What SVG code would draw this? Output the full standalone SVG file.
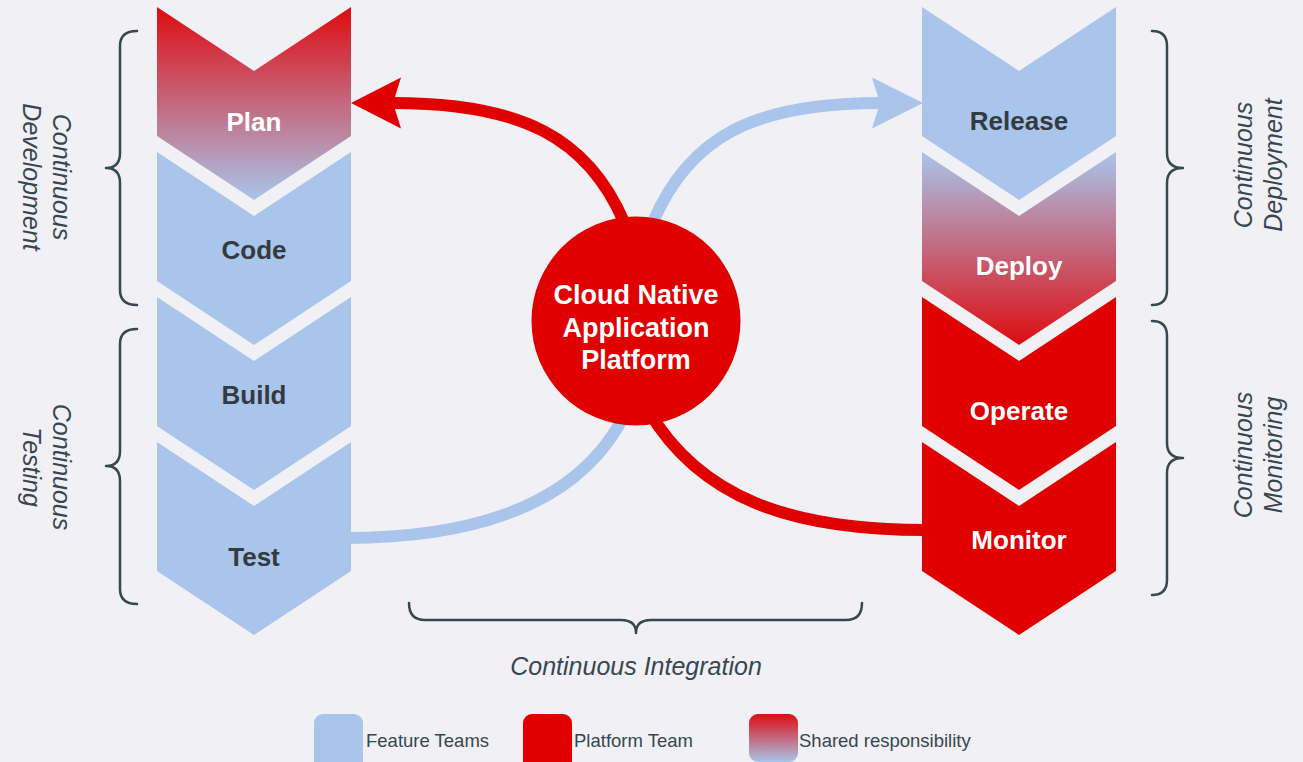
<svg xmlns="http://www.w3.org/2000/svg" width="1303" height="762" viewBox="0 0 1303 762">
  <defs>
    <linearGradient id="gRedBlue" x1="0" y1="0" x2="0" y2="1">
      <stop offset="0" stop-color="#de0c10"/>
      <stop offset="1" stop-color="#a9c5eb"/>
    </linearGradient>
    <linearGradient id="gBlueRed" x1="0" y1="0" x2="0" y2="1">
      <stop offset="0" stop-color="#a9c5eb"/>
      <stop offset="1" stop-color="#de0c10"/>
    </linearGradient>
    <marker id="arrRed" markerUnits="userSpaceOnUse" viewBox="-10 -28 56 56" refX="0" refY="0" markerWidth="56" markerHeight="56" orient="auto">
      <polygon points="42,0 -8,-25.5 0,0 -8,25.5" fill="#e00000"/>
    </marker>
    <marker id="arrBlue" markerUnits="userSpaceOnUse" viewBox="-10 -28 56 56" refX="0" refY="0" markerWidth="56" markerHeight="56" orient="auto">
      <polygon points="43,0 -8,-25.5 0,0 -8,25.5" fill="#a9c5eb"/>
    </marker>
  </defs>
  <style>
    .bg { fill: #f0f0f5; }
    .blue { fill: #a9c5eb; }
    .red { fill: #e00000; }
    .lbl { font-family: "Liberation Sans", Arial, sans-serif; font-weight: bold; font-size: 26px; text-anchor: middle; }
    .big { font-size: 27px; }
    .dark { fill: #333b41; }
    .white { fill: #ffffff; }
    .cap { font-family: "Liberation Sans", Arial, sans-serif; font-style: italic; font-size: 25px; fill: #37474f; text-anchor: middle; }
    .brace { fill: none; stroke: #37474f; stroke-width: 2.5; stroke-linecap: round; stroke-linejoin: round; }
    .conn { fill: none; stroke-width: 12; }
    .legend { font-family: "Liberation Sans", Arial, sans-serif; font-size: 18.5px; fill: #37474f; }
  </style>

  <rect class="bg" x="0" y="0" width="1303" height="762"/>

  <g id="connectors">
    <path class="conn" stroke="#e00000" d="M 624 222 C 588 138, 522 103, 393 103" marker-end="url(#arrRed)"/>
    <path class="conn" stroke="#a9c5eb" d="M 653 222 C 689 138, 752 103, 880 103" marker-end="url(#arrBlue)"/>
    <path class="conn" stroke="#a9c5eb" d="M 345 538 C 480 538, 582 502, 626 412"/>
    <path class="conn" stroke="#e00000" d="M 648 410 C 700 498, 790 530, 926 530"/>
  </g>

  <g id="plan">
    <path fill="url(#gRedBlue)" d="M157 7 L254 71 L351 7 L351 136 L254 200 L157 136 Z"/>
    <text class="lbl white" x="254" y="131">Plan</text>
  </g>
  <g id="code">
    <path class="blue" d="M157 152 L254 216 L351 152 L351 281 L254 345 L157 281 Z"/>
    <text class="lbl dark" x="254" y="259">Code</text>
  </g>
  <g id="build">
    <path class="blue" d="M157 297 L254 361 L351 297 L351 426 L254 490 L157 426 Z"/>
    <text class="lbl dark" x="254" y="404">Build</text>
  </g>
  <g id="test">
    <path class="blue" d="M157 442 L254 506 L351 442 L351 571 L254 635 L157 571 Z"/>
    <text class="lbl dark" x="254" y="566">Test</text>
  </g>

  <g id="release">
    <path class="blue" d="M922 7 L1019 71 L1116 7 L1116 136 L1019 200 L922 136 Z"/>
    <text class="lbl dark" x="1019" y="130">Release</text>
  </g>
  <g id="deploy">
    <path fill="url(#gBlueRed)" d="M922 152 L1019 216 L1116 152 L1116 281 L1019 345 L922 281 Z"/>
    <text class="lbl white" x="1019" y="275">Deploy</text>
  </g>
  <g id="operate">
    <path class="red" d="M922 297 L1019 361 L1116 297 L1116 426 L1019 490 L922 426 Z"/>
    <text class="lbl white" x="1019" y="420">Operate</text>
  </g>
  <g id="monitor">
    <path class="red" d="M922 442 L1019 506 L1116 442 L1116 571 L1019 635 L922 571 Z"/>
    <text class="lbl white" x="1019" y="549">Monitor</text>
  </g>

  <g id="platform">
    <circle class="red" cx="636" cy="321" r="104.5"/>
    <text class="lbl big white" x="636" y="304">Cloud Native</text>
    <text class="lbl big white" x="636" y="337">Application</text>
    <text class="lbl big white" x="636" y="369">Platform</text>
  </g>

  <g id="continuous-development">
    <path class="brace" d="M137 31 Q120 31 120 46 L120 153 Q120 168 106 168 Q120 168 120 183 L120 290 Q120 305 137 305"/>
    <g transform="translate(40,177) rotate(90)">
      <text class="cap" x="0" y="-13">Continuous</text>
      <text class="cap" x="0" y="17">Development</text>
    </g>
  </g>
  <g id="continuous-testing">
    <path class="brace" d="M137 329 Q120 329 120 344 L120 451 Q120 466 106 466 Q120 466 120 481 L120 589 Q120 604 137 604"/>
    <g transform="translate(40,467) rotate(90)">
      <text class="cap" x="0" y="-13">Continuous</text>
      <text class="cap" x="0" y="17">Testing</text>
    </g>
  </g>
  <g id="continuous-deployment">
    <path class="brace" d="M1152 31 Q1167 31 1167 46 L1167 153 Q1167 168 1183 168 Q1167 168 1167 183 L1167 290 Q1167 305 1152 305"/>
    <g transform="translate(1267,165) rotate(-90)">
      <text class="cap" x="0" y="-15">Continuous</text>
      <text class="cap" x="0" y="15">Deployment</text>
    </g>
  </g>
  <g id="continuous-monitoring">
    <path class="brace" d="M1152 321 Q1167 321 1167 336 L1167 443 Q1167 458 1183 458 Q1167 458 1167 473 L1167 580 Q1167 595 1152 595"/>
    <g transform="translate(1267,455) rotate(-90)">
      <text class="cap" x="0" y="-15">Continuous</text>
      <text class="cap" x="0" y="15">Monitoring</text>
    </g>
  </g>
  <g id="continuous-integration">
    <path class="brace" d="M409 603 Q409 620 425 620 L621 620 Q636 620 636 633 Q636 620 651 620 L846 620 Q862 620 862 603"/>
    <text class="cap" x="636" y="675">Continuous Integration</text>
  </g>

  <g id="legend">
    <rect class="blue" x="314" y="714" width="49" height="60" rx="9"/>
    <text class="legend" x="366" y="747">Feature Teams</text>
    <rect class="red" x="523" y="714" width="49" height="60" rx="9"/>
    <text class="legend" x="574" y="747">Platform Team</text>
    <rect fill="url(#gRedBlue)" x="749" y="714" width="49" height="48" rx="9"/>
    <text class="legend" x="799" y="747">Shared responsibility</text>
  </g>
</svg>
